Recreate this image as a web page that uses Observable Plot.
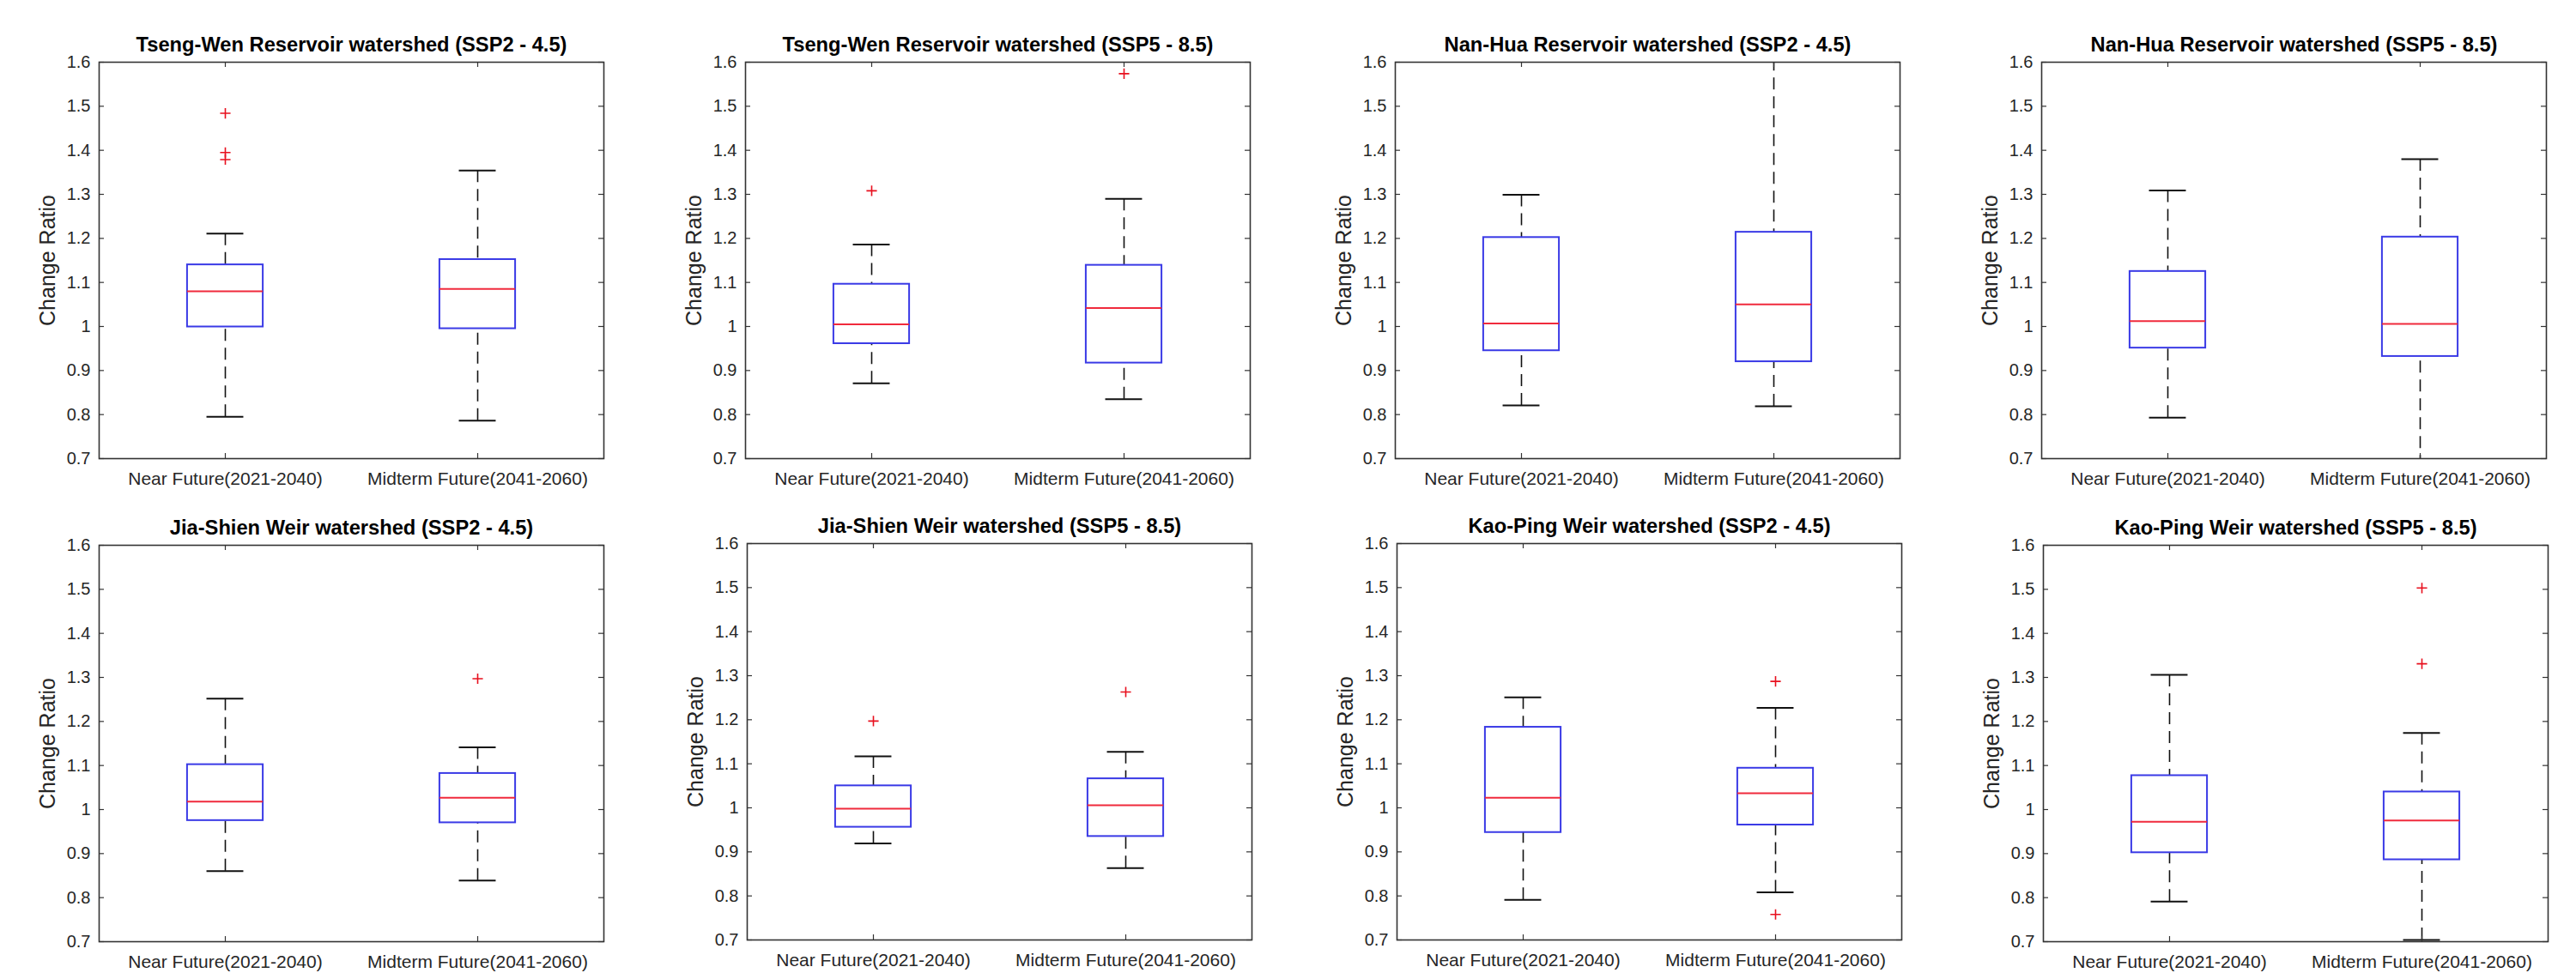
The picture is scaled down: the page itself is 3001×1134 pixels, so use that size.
<!DOCTYPE html>
<html>
<head>
<meta charset="utf-8">
<script src="https://cdn.jsdelivr.net/npm/d3@7"></script>
<script src="https://cdn.jsdelivr.net/npm/@observablehq/plot@0.6"></script>
<style>
  body { margin: 0; background: #fff; }
  #chart { position: relative; width: 3001px; height: 1134px; overflow: hidden; background: #fff; }
  #chart svg { position: absolute; }
</style>
</head>
<body>
<div id="chart"></div>
<script>
// ---------------- data ----------------
const panelTitles = [
  "Tseng-Wen Reservoir watershed (SSP2 - 4.5)",
  "Tseng-Wen Reservoir watershed (SSP5 - 8.5)",
  "Nan-Hua Reservoir watershed (SSP2 - 4.5)",
  "Nan-Hua Reservoir watershed (SSP5 - 8.5)",
  "Jia-Shien Weir watershed (SSP2 - 4.5)",
  "Jia-Shien Weir watershed (SSP5 - 8.5)",
  "Kao-Ping Weir watershed (SSP2 - 4.5)",
  "Kao-Ping Weir watershed (SSP5 - 8.5)"
];
const categories = ["Near Future(2021-2040)", "Midterm Future(2041-2060)"];
const yLabel = "Change Ratio";
const yTicks = [0.7, 0.8, 0.9, 1.0, 1.1, 1.2, 1.3, 1.4, 1.5, 1.6];

// per panel: [near, midterm]
const lowerWhisker = [[0.795, 0.786], [0.871, 0.835], [0.821, 0.819], [0.793, 0.68],
                      [0.860, 0.839], [0.919, 0.863], [0.791, 0.808], [0.791, 0.704]];
const q1 =           [[0.999, 0.995], [0.961, 0.917], [0.945, 0.920], [0.951, 0.932],
                      [0.975, 0.970], [0.956, 0.935], [0.944, 0.961], [0.902, 0.886]];
const medians =      [[1.080, 1.085], [1.005, 1.042], [1.007, 1.050], [1.012, 1.006],
                      [1.018, 1.027], [0.998, 1.006], [1.023, 1.033], [0.972, 0.975]];
const q3 =           [[1.140, 1.152], [1.096, 1.139], [1.202, 1.214], [1.125, 1.203],
                      [1.102, 1.082], [1.050, 1.066], [1.183, 1.090], [1.077, 1.040]];
const upperWhisker = [[1.211, 1.354], [1.186, 1.290], [1.299, 1.65], [1.309, 1.380],
                      [1.252, 1.141], [1.117, 1.127], [1.251, 1.227], [1.306, 1.174]];
const outliers = [
  [[1.484, 1.395, 1.379], []],
  [[1.308], [1.574]],
  [[], []],
  [[], []],
  [[], [1.297]],
  [[1.197], [1.263]],
  [[], [1.287, 0.758]],
  [[], [1.503, 1.331]]
];

// ---------------- layout ----------------
const FW = 588, FH = 462;
const ML = 110, MR = 20, MT = 72, MB = 45;
const frameLefts = [115, 868, 1625, 2378, 115, 870, 1627, 2380];
const frameTops  = [72, 72, 72, 72, 635, 633, 633, 635];
const boxHalf = 0.15, capHalf = 0.073;
const FONT = "'Liberation Sans', Arial, Helvetica, sans-serif";
const fmt = d => String(+d.toFixed(1));

const chart = document.getElementById("chart");

panelTitles.forEach((title, i) => {
  const boxes = [0, 1].map(j => ({
    pos: j + 1,
    lo: lowerWhisker[i][j], q1: q1[i][j], med: medians[i][j], q3: q3[i][j], hi: upperWhisker[i][j]
  }));
  const outs = [0, 1].flatMap(j => outliers[i][j].map(v => ({pos: j + 1, value: v})));

  const svg = Plot.plot({
    width: ML + FW + MR,
    height: MT + FH + MB,
    marginLeft: ML, marginRight: MR, marginTop: MT, marginBottom: MB,
    style: {fontFamily: FONT, fontSize: "20px", color: "#262626", background: "transparent", overflow: "visible"},
    x: {domain: [0.5, 2.5]},
    y: {domain: [0.7, 1.6]},
    marks: [
      // whiskers (dashed)
      Plot.ruleX(boxes, {x: "pos", y1: "hi", y2: "q3", stroke: "#111", strokeWidth: 1.6, strokeDasharray: "14,8", clip: true}),
      Plot.ruleX(boxes, {x: "pos", y1: "lo", y2: "q1", stroke: "#111", strokeWidth: 1.6, strokeDasharray: "14,8", clip: true}),
      // caps
      Plot.ruleY(boxes, {y: "hi", x1: d => d.pos - capHalf, x2: d => d.pos + capHalf, stroke: "#111", strokeWidth: 2, clip: true}),
      Plot.ruleY(boxes, {y: "lo", x1: d => d.pos - capHalf, x2: d => d.pos + capHalf, stroke: "#111", strokeWidth: 2, clip: true}),
      // boxes
      Plot.rect(boxes, {x1: d => d.pos - boxHalf, x2: d => d.pos + boxHalf, y1: "q1", y2: "q3",
                        fill: "none", stroke: "#3a3ae6", strokeWidth: 2}),
      // medians
      Plot.ruleY(boxes, {y: "med", x1: d => d.pos - boxHalf, x2: d => d.pos + boxHalf, stroke: "#f02a3c", strokeWidth: 2}),
      // outliers
      Plot.dot(outs, {x: "pos", y: "value", symbol: "plus", r: 4, stroke: "#e8101e", strokeWidth: 1.6, clip: true}),
      // inside ticks (left, right, top, bottom)
      Plot.tickY(yTicks, {y: d => d, insetRight: FW - 6, stroke: "#333", strokeWidth: 1.2}),
      Plot.tickY(yTicks, {y: d => d, insetLeft: FW - 6, stroke: "#333", strokeWidth: 1.2}),
      Plot.tickX([1, 2], {x: d => d, insetBottom: FH - 6, stroke: "#333", strokeWidth: 1.2}),
      Plot.tickX([1, 2], {x: d => d, insetTop: FH - 6, stroke: "#333", strokeWidth: 1.2}),
      Plot.frame({stroke: "#333", strokeWidth: 1.6}),
      // axes
      Plot.axisY({ticks: yTicks, tickFormat: fmt, tickSize: 0, tickPadding: 10, label: null, fontSize: 20}),
      Plot.axisX({ticks: [1, 2], tickFormat: d => categories[d - 1], tickSize: 0, tickPadding: 16, label: null, fontSize: 21}),
      // titles
      Plot.text([title], {text: d => d, frameAnchor: "top", lineAnchor: "middle", dy: -20,
                          fontSize: 23.7, fontWeight: "bold", fill: "#000"}),
      Plot.text([yLabel], {text: d => d, frameAnchor: "left", textAnchor: "middle", lineAnchor: "middle",
                           dx: -60, rotate: -90, fontSize: 25, fill: "#262626"})
    ]
  });
  svg.style.left = (frameLefts[i] - ML) + "px";
  svg.style.top = (frameTops[i] - MT) + "px";
  chart.appendChild(svg);
});
</script>
</body>
</html>
